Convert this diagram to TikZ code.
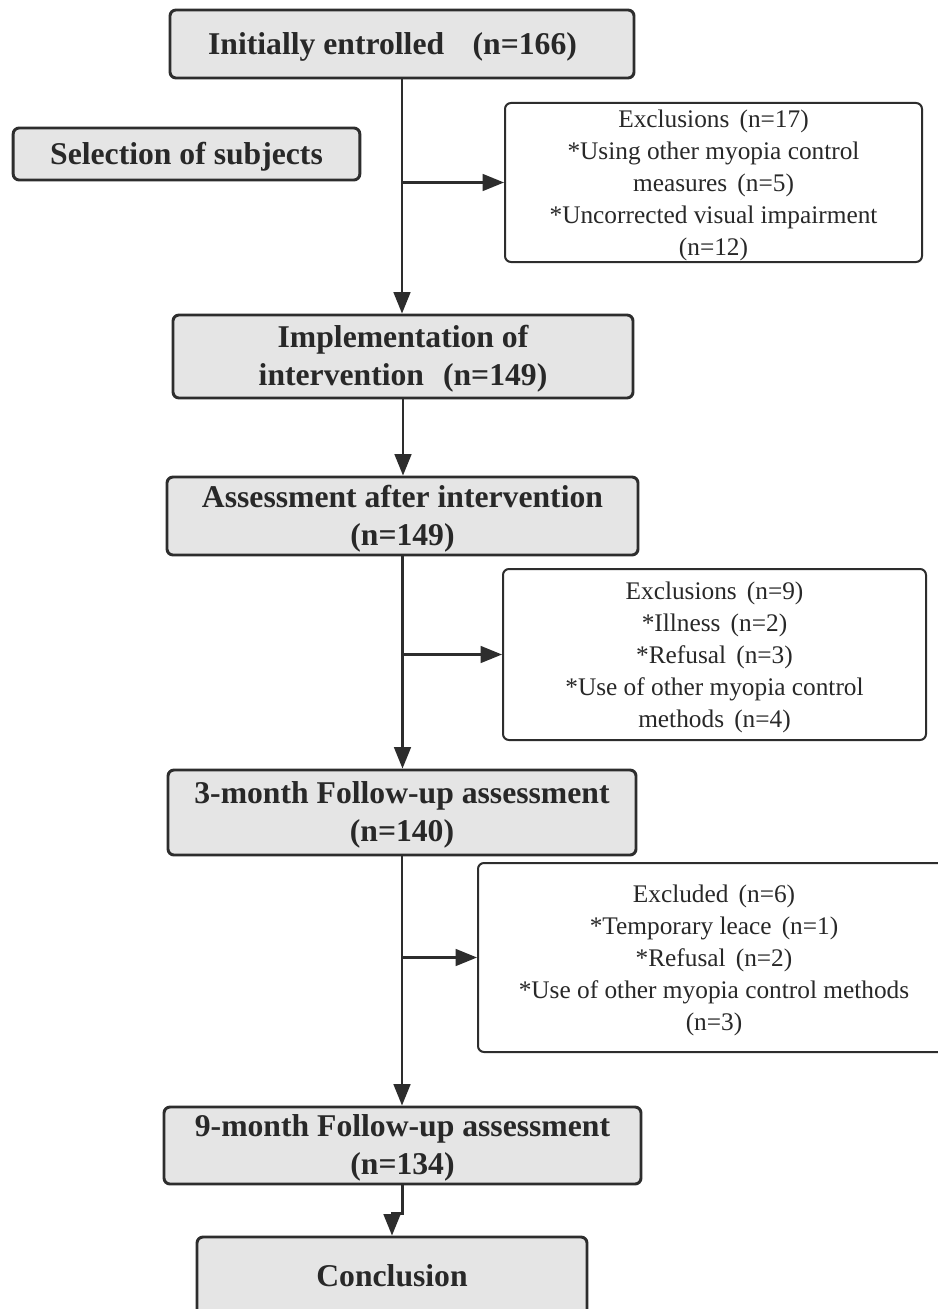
\documentclass[tikz,border=0pt]{standalone}
\usepackage{fontspec}
\setmainfont{Liberation Serif}
\usetikzlibrary{arrows.meta}
\definecolor{boxfill}{RGB}{229,229,229}
\definecolor{ink}{RGB}{45,45,45}
\definecolor{txt}{RGB}{40,40,40}
\newcommand{\fw}[1]{\hspace{0.4em}(#1)\hspace{0.4em}}
\newcommand{\sr}[1]{\rule{0pt}{#1em}}
\begin{document}
\begin{tikzpicture}[x=0.75pt,y=-0.75pt,
 mainbox/.style={draw=ink, line width=2.2pt, fill=boxfill, rounded corners=4.5pt, align=center, inner sep=0pt, text=txt, font=\fontsize{23.75}{28.5}\selectfont\bfseries},
 exbox/.style={draw=ink, line width=1.5pt, fill=white, rounded corners=4.5pt, align=center, inner sep=0pt, text=txt, font=\fontsize{19}{24}\selectfont},
 conn/.style={draw=ink, line width=1.8pt},
 arr/.style={conn, -{Triangle[length=16pt,width=12.5pt]}}
]
\useasboundingbox (0,0) rectangle (938,1309);
\clip (0,0) rectangle (938,1309);
\fill[white] (0,0) rectangle (938,1309);

\node[mainbox, minimum width=348pt, minimum height=51pt] (A) at (402,44) {\sr{0.9}Initially entrolled\hspace{0.9em}(n=166)\hspace{0.6em}};
\node[mainbox, minimum width=260pt, minimum height=39pt] (S) at (186.5,154) {\sr{0.9}Selection of subjects};
\node[exbox, minimum width=312.75pt, minimum height=119.25pt] (X1) at (713.5,182.5) {\sr{0.89}Exclusions\fw{n=17}\\ *Using other myopia control\\ measures\fw{n=5}\\ *Uncorrected visual impairment\\ (n=12)};
\node[mainbox, minimum width=345pt, minimum height=62.25pt] (B) at (403,356.5) {\sr{0.86}Implementation of\\ intervention\hspace{0.6em}(n=149)\hspace{0.5em}};
\node[mainbox, minimum width=353.25pt, minimum height=58.5pt] (C) at (402.5,516) {\sr{0.86}Assessment after intervention\\ (n=149)};
\node[exbox, minimum width=317.25pt, minimum height=128.25pt] (X2) at (714.5,654.5) {\sr{0.89}Exclusions\fw{n=9}\\ *Illness\fw{n=2}\\ *Refusal\fw{n=3}\\ *Use of other myopia control\\ methods\fw{n=4}};
\node[mainbox, minimum width=351pt, minimum height=63.75pt] (D) at (402,812.5) {\sr{0.86}3-month Follow-up assessment\\ (n=140)};
\node[exbox, minimum width=354pt, minimum height=141.75pt] (X3) at (714,957.5) {\sr{0.89}Excluded\fw{n=6}\\ *Temporary leace\fw{n=1}\\ *Refusal\fw{n=2}\\ *Use of other myopia control methods\\ (n=3)};
\node[mainbox, minimum width=357.75pt, minimum height=57.75pt] (E) at (402.5,1145.5) {\sr{0.86}9-month Follow-up assessment\\ (n=134)};
\node[mainbox, minimum width=292.5pt, minimum height=58.5pt] (F) at (392,1276) {Conclusion};

\draw[arr] (A.south) -- (A.south |- B.north);
\draw[arr] (A.south |- X1.west) -- (X1.west);
\draw[arr] (B.south) -- (B.south |- C.north);
\draw[arr] (C.south) -- (C.south |- D.north);
\draw[arr] (C.south |- X2.west) -- (X2.west);
\draw[arr] (D.south) -- (D.south |- E.north);
\draw[arr] (D.south |- X3.west) -- (X3.west);
\draw[arr] (E.south) -- ++(0,28) -| (F.north);
\end{tikzpicture}
\end{document}
